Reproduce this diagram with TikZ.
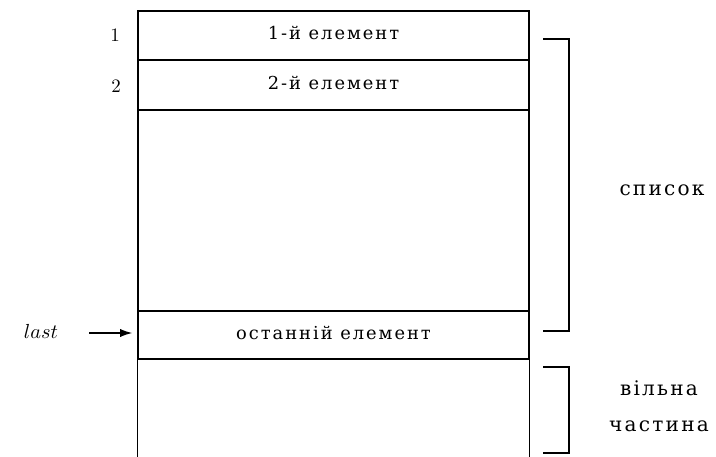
\documentclass[tikz,border=0pt]{standalone}
\usepackage{fontspec}
\newfontfamily\cyr{DejaVu Serif}[LetterSpace=11]
\usetikzlibrary{arrows.meta}
\newcommand\pxu{*0.5376pt}
\begin{document}
\begin{tikzpicture}[x=0.5376pt,y=-0.5376pt,line width=0.75pt,
  cell/.style={draw, minimum width=391\pxu, inner sep=0pt, text height=1ex, text depth=0pt,
    font=\cyr\fontsize{9.6}{11.5}\selectfont},
  num/.style={inner sep=0pt, font=\fontsize{10.2}{12}\selectfont},
  side/.style={inner sep=0pt, font=\cyr\fontsize{10.8}{19.4}\selectfont},
  bracket/.style={line width=0.75pt},
  ptr/.style={-{Latex[length=6.5pt,width=4.4pt]}, shorten >=2.7pt}]
\useasboundingbox (0,0) rectangle (716,457);
\node[cell, minimum height=49\pxu] (c1) at (333.5,35.5) {1-й елемент};
\node[cell, minimum height=50\pxu] (c2) at (333.5,85) {2-й елемент};
\node[cell, minimum height=201\pxu] (cm) at (333.5,210.5) {};
\node[cell, minimum height=48\pxu] (cl) at (333.5,335) {останній елемент};
\draw (cl.south west) -- ++(0,98);
\draw (cl.south east) -- ++(0,98);
\node[num] (n1) at (115,35) {1};
\node[num] (n2) at (116,86) {2};
\node[num, font=\fontsize{11.2}{13}\selectfont] (last) at (41,331) {$last$};
\coordinate (as) at (89,333);
\draw[ptr] (as) -- (cl.west |- as);
\draw[bracket] (543,39) -| (569,331) -- (543,331);
\draw[bracket] (543,367) -| (569,453) -- (543,453);
\node[side, text height=1ex, text depth=0pt] (spysok) at (662,191) {список};
\node[side, align=center] (vilna) at (659,406) {вільна\\частина};
\end{tikzpicture}
\end{document}
